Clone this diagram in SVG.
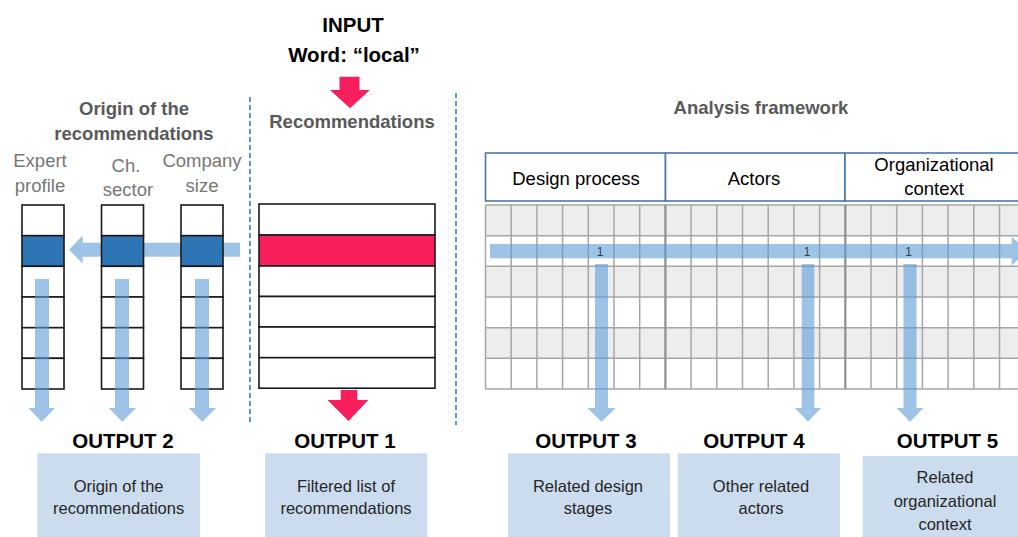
<svg xmlns="http://www.w3.org/2000/svg" width="1018" height="537" viewBox="0 0 1018 537">
<style>
.hdr{font-family:"Liberation Sans",Arial,sans-serif;font-weight:bold;fill:#595959;font-size:18.5px;text-anchor:middle}
.sub{font-family:"Liberation Sans",Arial,sans-serif;fill:#767676;font-size:18.5px;text-anchor:middle}
.big{font-family:"Liberation Sans",Arial,sans-serif;font-weight:bold;fill:#000;font-size:20.5px;text-anchor:middle}
.col{font-family:"Liberation Sans",Arial,sans-serif;fill:#000;font-size:18.5px;text-anchor:middle}
.box{fill:#CBDCEE}
.btxt{font-family:"Liberation Sans",Arial,sans-serif;fill:#262626;font-size:16.5px;text-anchor:middle}
.cell{fill:#fff;stroke:#1a1a1a;stroke-width:1.6}
.sel{fill:#2E75B6;stroke:#1a1a1a;stroke-width:1.6}
.pinksel{fill:#F81F5C;stroke:#1a1a1a;stroke-width:1.6}
.barrow{fill:#5B9BD5;opacity:0.6}
.parrow{fill:#F81F5C}
.dash{stroke:#5B9BD5;stroke-width:2;stroke-dasharray:5 3;fill:none}
.grid{stroke:#A6A6A6;stroke-width:1.5;fill:none}
.gdiv{stroke:#8F8F8F;stroke-width:2.2;fill:none}
.hbox{fill:#fff;stroke:#4E77A2;stroke-width:1.6}
.one{font-family:"Liberation Sans",Arial,sans-serif;fill:#333F50;font-size:12px;text-anchor:middle}
</style>

<g id="separators">
<line class="dash" x1="250" y1="97" x2="250" y2="425"/>
<line class="dash" x1="456" y1="93" x2="456" y2="425"/>
</g>

<g id="input">
<text class="big" x="353" y="32">INPUT</text>
<text class="big" x="354" y="62">Word: “local”</text>
</g>

<g id="origin-header">
<text class="hdr" x="134" y="115">Origin of the</text>
<text class="hdr" x="134" y="140">recommendations</text>
<text class="sub" x="40" y="167">Expert</text>
<text class="sub" x="40" y="192">profile</text>
<text class="sub" x="126" y="172">Ch.</text>
<text class="sub" x="128" y="196">sector</text>
<text class="sub" x="202" y="167">Company</text>
<text class="sub" x="202" y="192">size</text>
</g>

<g id="connectors-left-back">
<polygon class="barrow" points="240,242.7 82.7,242.7 82.7,235.5 69,249.7 82.7,263.5 82.7,256.7 240,256.7"/>
</g>

<g id="origin-columns">
<g id="col-expert">
<rect class="cell" x="22" y="205" width="42" height="30.7"/>
<rect class="sel" x="22" y="235.7" width="42" height="30.6"/>
<rect class="cell" x="22" y="266.3" width="42" height="30.7"/>
<rect class="cell" x="22" y="297" width="42" height="30.7"/>
<rect class="cell" x="22" y="327.7" width="42" height="30.6"/>
<rect class="cell" x="22" y="358.3" width="42" height="30.7"/>
</g>
<g id="col-sector">
<rect class="cell" x="101.5" y="205" width="42" height="30.7"/>
<rect class="sel" x="101.5" y="235.7" width="42" height="30.6"/>
<rect class="cell" x="101.5" y="266.3" width="42" height="30.7"/>
<rect class="cell" x="101.5" y="297" width="42" height="30.7"/>
<rect class="cell" x="101.5" y="327.7" width="42" height="30.6"/>
<rect class="cell" x="101.5" y="358.3" width="42" height="30.7"/>
</g>
<g id="col-size">
<rect class="cell" x="181" y="205" width="42" height="30.7"/>
<rect class="sel" x="181" y="235.7" width="42" height="30.6"/>
<rect class="cell" x="181" y="266.3" width="42" height="30.7"/>
<rect class="cell" x="181" y="297" width="42" height="30.7"/>
<rect class="cell" x="181" y="327.7" width="42" height="30.6"/>
<rect class="cell" x="181" y="358.3" width="42" height="30.7"/>
</g>
</g>

<g id="recommendations">
<text class="hdr" x="352" y="128">Recommendations</text>
<rect class="cell" x="259" y="204" width="176" height="31"/>
<rect class="pinksel" x="259" y="235" width="176" height="31"/>
<rect class="cell" x="259" y="266" width="176" height="30.5"/>
<rect class="cell" x="259" y="296.5" width="176" height="30.5"/>
<rect class="cell" x="259" y="327" width="176" height="30.7"/>
<rect class="cell" x="259" y="357.7" width="176" height="30.5"/>
</g>

<g id="analysis-framework">
<text class="hdr" x="761" y="114">Analysis framework</text>
<g id="hdr-design">
<rect class="hbox" x="485.5" y="153" width="180" height="48"/>
<text class="col" x="576" y="185">Design process</text>
</g>
<g id="hdr-actors">
<rect class="hbox" x="665.5" y="153" width="179.5" height="48"/>
<text class="col" x="754" y="185">Actors</text>
</g>
<g id="hdr-org">
<rect class="hbox" x="845" y="153" width="185" height="48"/>
<text class="col" x="934" y="171">Organizational</text>
<text class="col" x="934" y="195">context</text>
</g>
<g id="grid">
<rect x="485.5" y="205" width="540" height="30.7" fill="#EDEDED"/>
<rect x="485.5" y="266.3" width="540" height="30.7" fill="#EDEDED"/>
<rect x="485.5" y="327.7" width="540" height="30.6" fill="#EDEDED"/>
<path class="grid" d="M485.5 205H1025M485.5 235.7H1025M485.5 266.3H1025M485.5 297H1025M485.5 327.7H1025M485.5 358.3H1025M485.5 389H1025
M485.5 205V389M511.2 205V389M536.9 205V389M562.6 205V389M588.3 205V389M614 205V389M639.7 205V389
M691.1 205V389M716.8 205V389M742.5 205V389M768.2 205V389M793.9 205V389M819.6 205V389
M871 205V389M896.7 205V389M922.4 205V389M948.1 205V389M973.8 205V389M999.5 205V389"/>
<path class="gdiv" d="M665.4 205V389M845.3 205V389"/>
</g>
</g>

<g id="connectors">
<polygon class="parrow" points="339.5,76.7 359.5,76.7 359.5,90 370,90 350,108.3 330,90 339.5,90"/>
<polygon class="parrow" points="340.7,390 357.3,390 357.3,400 368.3,400 348.5,421 327.5,400 340.7,400"/>
<polygon class="barrow" points="35,279 49,279 49,408 55,408 41.7,421.7 28.3,408 35,408"/>
<polygon class="barrow" points="115,279 129,279 129,408 136,408 122.3,421.7 108.7,408 115,408"/>
<polygon class="barrow" points="195,279 209,279 209,408 216,408 202.3,421.7 188.7,408 195,408"/>
<polygon class="barrow" points="490,244 1011.7,244 1011.7,236.7 1027,251 1011.7,265.5 1011.7,258.3 490,258.3"/>
<polygon class="barrow" points="595,264 608,264 608,408 615.7,408 601.5,421.7 587.3,408 595,408"/>
<polygon class="barrow" points="801.7,264 814.3,264 814.3,408 821,408 808,421.7 795,408 801.7,408"/>
<polygon class="barrow" points="903.5,264 916.5,264 916.5,408 923.3,408 910,421.7 896.7,408 903.5,408"/>
</g>

<g id="match-labels">
<text class="one" x="600" y="256">1</text>
<text class="one" x="807" y="256">1</text>
<text class="one" x="908.5" y="256">1</text>
</g>

<g id="output2">
<text class="big" x="123" y="448">OUTPUT 2</text>
<rect class="box" x="37.3" y="453.3" width="162.7" height="84"/>
<text class="btxt" x="118.6" y="492">Origin of the</text>
<text class="btxt" x="118.6" y="514">recommendations</text>
</g>
<g id="output1">
<text class="big" x="345" y="448">OUTPUT 1</text>
<rect class="box" x="265" y="453.3" width="162.3" height="84"/>
<text class="btxt" x="346" y="492">Filtered list of</text>
<text class="btxt" x="346" y="514">recommendations</text>
</g>
<g id="output3">
<text class="big" x="586" y="448">OUTPUT 3</text>
<rect class="box" x="508" y="453.3" width="162" height="84"/>
<text class="btxt" x="588" y="492">Related design</text>
<text class="btxt" x="588" y="514">stages</text>
</g>
<g id="output4">
<text class="big" x="754" y="448">OUTPUT 4</text>
<rect class="box" x="677.7" y="453.3" width="162.3" height="84"/>
<text class="btxt" x="761" y="492">Other related</text>
<text class="btxt" x="761" y="514">actors</text>
</g>
<g id="output5">
<text class="big" x="947.5" y="448">OUTPUT 5</text>
<rect class="box" x="862.7" y="456" width="160" height="84"/>
<text class="btxt" x="945" y="483">Related</text>
<text class="btxt" x="945" y="507">organizational</text>
<text class="btxt" x="945" y="530">context</text>
</g>
</svg>
